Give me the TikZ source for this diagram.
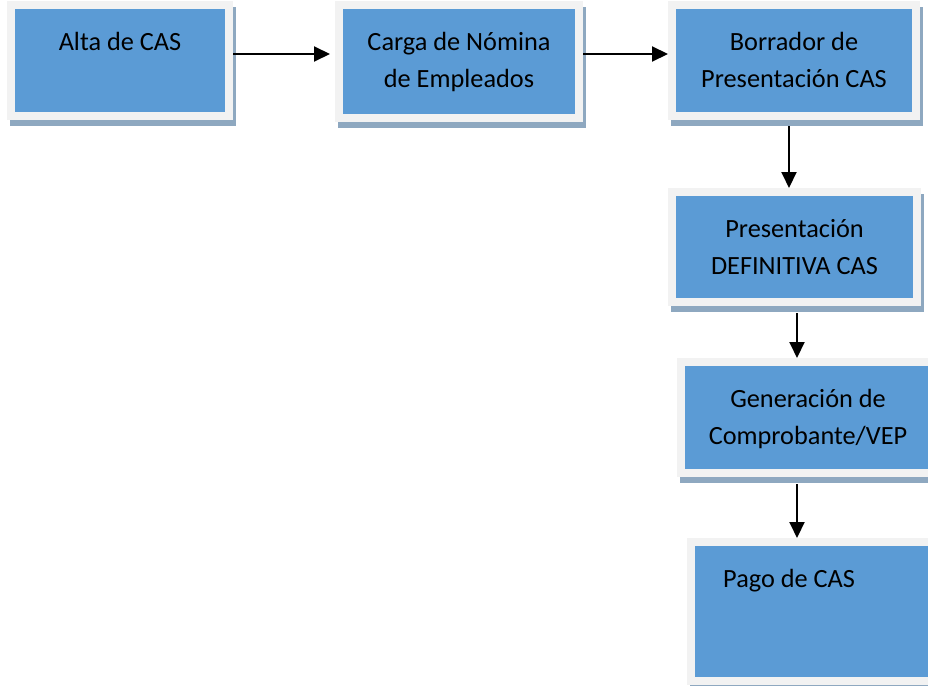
\documentclass[tikz,border=0pt]{standalone}
\usepackage{fontspec}
\setmainfont{Carlito}
\usetikzlibrary{arrows.meta, shadows}
\definecolor{boxblue}{HTML}{5B9BD5}
\definecolor{boxframe}{HTML}{F2F2F2}
\definecolor{boxshade}{HTML}{8EA8C0}
\tikzset{
  stepbox/.style={draw=boxframe, fill=boxblue, line width=8pt, inner sep=0pt,
    drop shadow={shadow xshift=3pt, shadow yshift=-6pt, opacity=1,
      fill=boxshade, draw=boxshade, line width=8pt}},
  steptext/.style={anchor=north, yshift=-23.6pt, inner sep=0pt, align=center,
    draw=none, fill=none, text=black},
  flow/.style={line width=2pt, -{Triangle[length=16pt, width=15pt]}}
}
\begin{document}
\begin{tikzpicture}[x=1pt, y=-1pt, font=\fontsize{26.3}{37}\selectfont]
\clip (0,0) rectangle (928,685);
\node[stepbox, minimum width=218pt, minimum height=111pt,
  label={[steptext]north:\strut Alta de CAS}] (alta) at (120,60.5) {};
\node[stepbox, minimum width=240pt, minimum height=113pt,
  label={[steptext]north:{\strut Carga de Nómina\\de Empleados}}] (carga) at (459,61.5) {};
\node[stepbox, minimum width=244pt, minimum height=111pt,
  label={[steptext]north:{\strut Borrador de\\Presentación CAS}}] (borrador) at (794,60.5) {};
\node[stepbox, minimum width=245pt, minimum height=110pt,
  label={[steptext]north:{\strut Presentación\\DEFINITIVA CAS}}] (definitiva) at (794.5,247) {};
\node[stepbox, minimum width=254pt, minimum height=111pt,
  label={[steptext]north:{\strut Generación de\\Comprobante/VEP}}] (generacion) at (808,417.5) {};
\node[stepbox, minimum width=254pt, minimum height=139pt,
  label={[steptext, anchor=north west, xshift=36pt, align=left]north west:\strut Pago de CAS}] (pago) at (818,611.5) {};
\draw[flow, shorten >=5pt] ([yshift=6.5pt]alta.east) -- ([yshift=6.5pt]alta.east -| carga.west);
\draw[flow] ([yshift=7.5pt]carga.east) -- ([yshift=7.5pt]carga.east -| borrador.west);
\draw[flow, shorten <=6pt] ([xshift=-5pt]borrador.south) -- ([xshift=-5pt]borrador.south |- definitiva.north);
\draw[flow, shorten <=7pt] ([xshift=2.5pt]definitiva.south) -- ([xshift=2.5pt]definitiva.south |- generacion.north);
\draw[flow, shorten <=7pt] ([xshift=-11pt]generacion.south) -- ([xshift=-11pt]generacion.south |- pago.north);
\end{tikzpicture}
\end{document}
